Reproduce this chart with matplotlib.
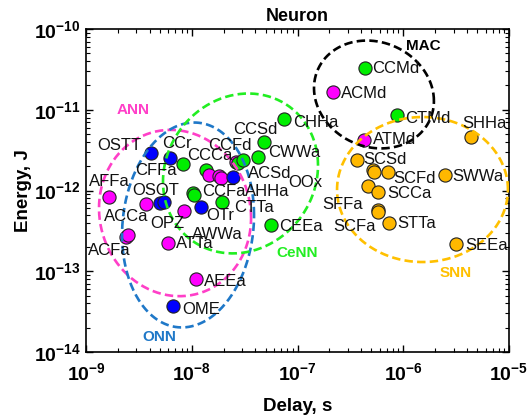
import numpy as np
import matplotlib
matplotlib.use("Agg")
import matplotlib.pyplot as plt
from matplotlib.ticker import FuncFormatter, FixedLocator, NullFormatter

plt.rcParams['font.family'] = ['Liberation Sans', 'DejaVu Sans']
plt.rcParams['mathtext.fontset'] = 'custom'
plt.rcParams['mathtext.rm'] = 'Liberation Sans'
plt.rcParams['mathtext.bf'] = 'Liberation Sans:bold'

# points, in drawing order (later ones sit on top)
names = ["CFFa", "CCCa", "", "CCFa", "CTTa", "CCSd", "CHHa", "CEEa", "CCMd", "CTMd",
         "AFFa", "ACFa", "ACCa", "OSOT", "AWWa", "ATTa", "AEEa", "", "", "", "ACSd", "ACMd", "ATMd",
         "OSTT", "CCr", "OPZ", "", "OTr", "AHHa", "OME",
         "OOx", "CCFd", "CWWa",
         "SHHa", "SCSd", "", "", "SCFd", "", "SCCa", "SFFa", "SCFa", "STTa", "SWWa", "SEEa"]
group = ["CeNN"] * 10 + ["ANN"] * 13 + ["ONN"] * 7 + ["CeNN"] * 3 + ["SNN"] * 12
delay = [8.2e-9, 1.36e-8, 1.03e-8, 1.06e-8, 1.95e-8, 4.82e-8, 7.5e-8, 5.6e-8, 4.35e-7, 8.67e-7,
         1.66e-9, 2.39e-9, 2.51e-9, 3.69e-9, 8.45e-9, 5.93e-9, 1.10e-8, 1.46e-8, 1.81e-8, 1.89e-8,
         2.62e-8, 2.18e-7, 4.28e-7,
         4.09e-9, 6.22e-9, 5.0e-9, 5.47e-9, 1.22e-8, 2.47e-8, 6.7e-9,
         2.71e-8, 3.02e-8, 4.26e-8,
         4.35e-6, 3.63e-7, 5.12e-7, 5.28e-7, 7.13e-7, 4.68e-7, 5.8e-7, 5.8e-7, 5.73e-7, 7.38e-7,
         2.48e-6, 3.16e-6]
energy = [2.13e-12, 1.79e-12, 9.2e-13, 8.8e-13, 7.26e-13, 4.0e-12, 7.6e-12, 3.74e-13, 3.3e-11, 8.6e-12,
          8.2e-13, 2.65e-13, 2.8e-13, 6.8e-13, 5.57e-13, 2.26e-13, 8.0e-14, 1.56e-12, 1.51e-12, 1.41e-12,
          2.25e-12, 1.68e-11, 4.2e-12,
          2.94e-12, 2.55e-12, 7.1e-13, 7.2e-13, 6.19e-13, 1.46e-12, 3.72e-14,
          2.19e-12, 2.39e-12, 2.58e-12,
          4.64e-12, 2.39e-12, 1.77e-12, 1.69e-12, 1.71e-12, 1.14e-12, 9.5e-13, 5.74e-13, 5.46e-13, 3.99e-13,
          1.56e-12, 2.17e-13]
# label offsets from the point, in pixels (left edge, vertical centre)
label_dx = [-47.7, -19, 0, 7.4, 11.7, -31.3, 8.4, 8.3, 7.3, 8.3,
            -20, -37.7, -24, -13.3, 7.7, 8.3, 7.7, 0, 0, 0, 12.3, 7.4, 8.4,
            -53.4, -8.3, -9.3, 0, 5.7, 11.7, 8.4,
            50.8, -34.2, 10,
            -8, 6.6, 0, 0, 5.6, 0, 9, -55.6, -44.4, 8, 7.7, 9]
label_dy = [-6.8, 15, 0, 3.3, -5.8, 12.5, -3.2, -2, -1.1, -3.8,
            16.3, -13.8, 18.7, 13.2, -23, -0.6, -2.7, 0, 0, 0, -11.3, -1.6, 0.3,
            6.7, 13.7, -21.3, 0, -7.7, -14.4, -4,
            -19.5, 14.2, 4.6,
            13.4, 0.3, 0, 0, -6.6, 0, -1.4, 5, -14.3, -0.6, -1.7, -1]

point_colors = {"ANN": "#ff00ff", "ONN": "#0000ff", "CeNN": "#00ee00", "SNN": "#ffb800"}

# region outlines: centre and half axes in decades, plus a small shear
regions = ["ANN", "ONN", "CeNN", "MAC", "SNN"]
reg_cx = [-8.158, -8.035, -7.539, -6.277, -5.818]
reg_cy = [-12.279, -12.427, -11.789, -10.811, -11.988]
reg_a = [0.719, 0.624, 0.733, 0.567, 0.808]
reg_b = [1.028, 1.263, 0.985, 0.663, 0.898]
reg_k = [-0.06, 0.12, 0.1, -0.08, 0.0]
reg_colors = ["#ff3fc8", "#1f78c8", "#22ee22", "#000000", "#ffc000"]
reg_text_pos = [(0.112, 0.750), (0.174, 0.045), (0.498, 0.306), (0.797, 0.947), (0.875, 0.246)]

x_decades = [-9, -8, -7, -6, -5]
y_decades = [-14, -13, -12, -11, -10]

fig = plt.figure(figsize=(5.32, 4.2), dpi=100)
ax = fig.add_axes([86 / 532, 1 - 352 / 420, 423 / 532, 323 / 420])
ax.set_xscale('log')
ax.set_yscale('log')
ax.set_xlim(1e-9, 1e-5)
ax.set_ylim(1e-14, 1e-10)

for i in range(len(names)):
    ax.scatter(delay[i], energy[i], s=90, c=point_colors[group[i]], edgecolors='#222222',
               linewidths=0.8, zorder=3)
    if names[i]:
        ax.annotate(names[i], (delay[i], energy[i]), xytext=(label_dx[i], label_dy[i]),
                    textcoords='offset pixels', ha='left', va='center', fontsize=12,
                    color='#111111', zorder=5)

t = np.linspace(0, 2 * np.pi, 300)
for j in range(len(regions)):
    lx = reg_cx[j] + reg_a[j] * np.cos(t)
    ly = reg_cy[j] + reg_b[j] * np.sin(t) + reg_k[j] * np.cos(t)
    ax.plot(10 ** lx, 10 ** ly, color=reg_colors[j], lw=1.9, dashes=(3.2, 1.6), zorder=4)
    ax.text(reg_text_pos[j][0], reg_text_pos[j][1], regions[j], transform=ax.transAxes,
            ha='center', va='center', fontsize=11, fontweight='bold', color=reg_colors[j])

fmt = FuncFormatter(lambda v, p: r'$\mathbf{10^{%d}}$' % int(round(np.log10(v))))
ax.xaxis.set_major_locator(FixedLocator([10.0 ** d for d in x_decades]))
ax.yaxis.set_major_locator(FixedLocator([10.0 ** d for d in y_decades]))
ax.xaxis.set_minor_locator(FixedLocator([m * 10.0 ** d for d in x_decades[:-1] for m in range(2, 10)]))
ax.yaxis.set_minor_locator(FixedLocator([m * 10.0 ** d for d in y_decades[:-1] for m in range(2, 10)]))
ax.xaxis.set_major_formatter(fmt)
ax.yaxis.set_major_formatter(fmt)
ax.xaxis.set_minor_formatter(NullFormatter())
ax.yaxis.set_minor_formatter(NullFormatter())
ax.tick_params(which='both', direction='in', top=True, right=True, labelsize=14)
ax.tick_params(which='major', length=5, width=1)
ax.tick_params(which='minor', length=3, width=0.8)
ax.tick_params(axis='x', pad=7)
ax.tick_params(axis='y', pad=4)
for sp in ax.spines.values():
    sp.set_linewidth(1.2)

ax.set_xlabel("Delay, s", fontsize=13.5, fontweight='bold', labelpad=10)
ax.set_ylabel("Energy, J", fontsize=13.5, fontweight='bold', labelpad=1)
ax.set_title("Neuron", fontsize=13, fontweight='bold', pad=6)

fig.savefig("out.png", dpi=100)
